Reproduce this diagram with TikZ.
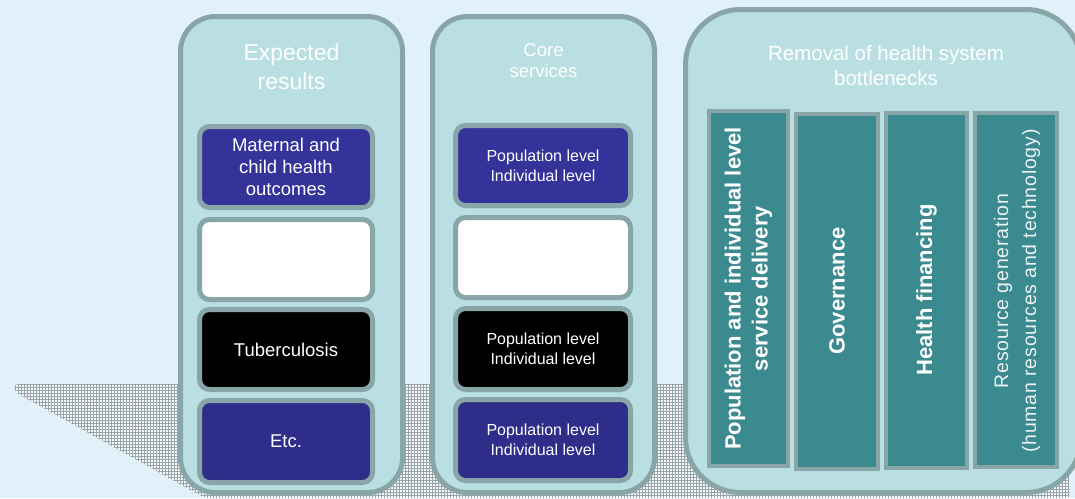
\documentclass[tikz,border=0pt]{standalone}
\usepackage{fontspec}
\setmainfont{Liberation Sans}
\usetikzlibrary{patterns}
\definecolor{bgc}{HTML}{E0F1F9}
\definecolor{colfill}{HTML}{B9DFE2}
\definecolor{edgec}{HTML}{88A6A8}
\definecolor{navyA}{HTML}{333399}
\definecolor{navyB}{HTML}{2E2D8A}
\definecolor{tealbar}{HTML}{3A8A8F}
\definecolor{shadowc}{HTML}{9AA4A8}
\begin{document}
\begin{tikzpicture}[x=1pt,y=-1pt,
  column/.style={draw=edgec, line width=5pt, fill=colfill, rounded corners=35pt, inner sep=0pt},
  itembox/.style={draw=edgec, line width=5pt, rounded corners=10pt, inner sep=2pt, text=white,
     align=center, font=\fontsize{18.5}{22}\selectfont},
  corebox/.style={itembox, font=\fontsize{16}{20}\selectfont},
  barbox/.style={draw=edgec, line width=4pt, fill=tealbar, inner sep=0pt},
  bartext/.style={rotate=90, text=white, align=center, font=\fontsize{22}{27}\selectfont\bfseries},
  title/.style={text=white, align=center}
]
\useasboundingbox (0,0) rectangle (1075,498);
\fill[bgc] (0,0) rectangle (1075,498);
% shadow
\fill[white!60!bgc, rounded corners=4pt] (14,384) -- (1064,384) -- (1070,498) -- (205,498) -- (15,392) -- cycle;
\fill[pattern=grid, pattern color=shadowc, rounded corners=4pt] (14,384) -- (1064,384) -- (1070,498) -- (205,498) -- (15,392) -- cycle;
% columns
\node[column, minimum width=222pt, minimum height=476pt] (c1) at (291.5,254.5) {};
\node[column, minimum width=222pt, minimum height=476pt] (c2) at (543.5,254.5) {};
\node[column, rounded corners=55pt, minimum width=395.5pt, minimum height=483pt] (c3) at (883.25,251) {};
% titles
\node[title, font=\fontsize{23}{29}\selectfont] (t1) at (291.5,67) {Expected\\results};
\node[title, font=\fontsize{18.5}{21}\selectfont] (t2) at (543.5,60.5) {Core\\services};
\node[title, font=\fontsize{20.5}{25}\selectfont] (t3) at (886,65.5) {Removal of health system\\bottlenecks};
% column 1 boxes
\node[itembox, fill=navyA, minimum width=173pt, minimum height=81pt] (r1) at (286,167) {Maternal and\\child health\\outcomes};
\node[itembox, fill=white, minimum width=173pt, minimum height=80pt] (r2) at (286,259.5) {};
\node[itembox, fill=black, minimum width=173pt, minimum height=80pt] (r3) at (286,349.5) {Tuberculosis};
\node[itembox, fill=navyB, minimum width=173pt, minimum height=82pt] (r4) at (286,441.5) {Etc.};
% column 2 boxes
\node[corebox, fill=navyA, minimum width=175pt, minimum height=80pt] (s1) at (543,165.5) {Population level\\Individual level};
\node[corebox, fill=white, minimum width=175pt, minimum height=80pt] (s2) at (543,257.5) {};
\node[corebox, fill=black, minimum width=175pt, minimum height=81pt] (s3) at (543,349) {Population level\\Individual level};
\node[corebox, fill=navyB, minimum width=175pt, minimum height=81pt] (s4) at (543,440) {Population level\\Individual level};
% column 3 bars
\node[barbox, minimum width=79pt, minimum height=355pt] (b1) at (748.5,288.5) {};
\node[barbox, minimum width=82pt, minimum height=355pt] (b2) at (837,291) {};
\node[barbox, minimum width=81pt, minimum height=355pt] (b3) at (926.5,290) {};
\node[barbox, minimum width=82pt, minimum height=354pt] (b4) at (1016,289.5) {};
\node[bartext] (l1) at (b1.center) {Population and individual level\\service delivery};
\node[bartext] (l2) at (b2.center) {Governance};
\node[bartext] (l3) at (b3.center) {Health financing};
\node[bartext, text=white!90!tealbar, font=\fontsize{19.5}{28}\selectfont\addfontfeature{LetterSpace=4}] (l4) at (1017,291) {Resource generation\\(human resources and technology)};
\end{tikzpicture}
\end{document}
